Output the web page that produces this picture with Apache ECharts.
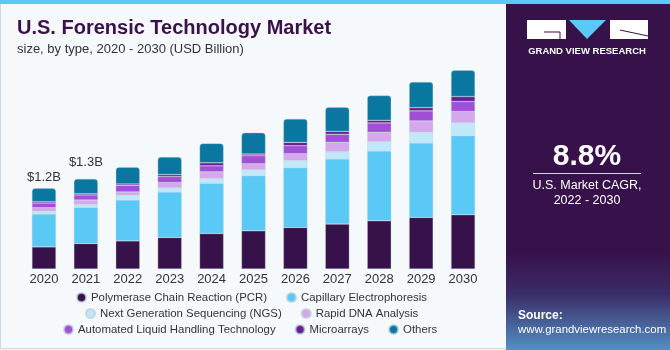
<!DOCTYPE html>
<html>
<head>
<meta charset="utf-8">
<script src="https://cdn.jsdelivr.net/npm/echarts@6/dist/echarts.min.js"></script>
<style>
  html, body { margin: 0; padding: 0; background: #f5f9fc; }
  #main { width: 670px; height: 350px; }
</style>
</head>
<body>
<div id="main"></div>
<script>
'use strict'
// data (USD Billion)
var years = ['2020', '2021', '2022', '2023', '2024', '2025', '2026', '2027', '2028', '2029', '2030'];
var pcr = [0.33, 0.38, 0.42, 0.47, 0.53, 0.57, 0.62, 0.67, 0.72, 0.77, 0.81];
var capillary = [0.49, 0.54, 0.61, 0.68, 0.75, 0.82, 0.89, 0.97, 1.04, 1.11, 1.18];
var ngs = [0.04, 0.04, 0.07, 0.06, 0.07, 0.09, 0.11, 0.11, 0.14, 0.16, 0.19];
var rapidDna = [0.055, 0.07, 0.05, 0.08, 0.10, 0.09, 0.10, 0.14, 0.14, 0.17, 0.17];
var liquidHandling = [0.07, 0.075, 0.10, 0.09, 0.09, 0.12, 0.12, 0.12, 0.14, 0.15, 0.15];
var microarrays = [0.02, 0.02, 0.02, 0.03, 0.045, 0.025, 0.05, 0.045, 0.04, 0.05, 0.075];
var others = [0.2, 0.22, 0.25, 0.26, 0.29, 0.32, 0.35, 0.36, 0.37, 0.38, 0.39];
var totalLabels = ['$1.2B', '$1.3B', '', '', '', '', '', '', '', '', ''];

var names = [
    'Polymerase Chain Reaction (PCR)',
    'Capillary Electrophoresis',
    'Next Generation Sequencing (NGS)',
    'Rapid DNA Analysis',
    'Automated Liquid Handling Technology',
    'Microarrays',
    'Others'
];
var values = [pcr, capillary, ngs, rapidDna, liquidHandling, microarrays, others];
var colors = ['#37114a', '#5bc9f6', '#bfe9fa', '#d5a8ed', '#a24fd8', '#6a1f91', '#0a77a0'];

var chart = echarts.init(document.getElementById('main'));

var series = values.map(function (vals, i) {
    var last = i === values.length - 1;
    return {
        name: names[i],
        type: 'bar',
        stack: 'total',
        barWidth: 24,
        itemStyle: {
            color: colors[i],
            borderColor: 'rgba(190,205,215,0.7)',
            borderWidth: 0.5,
            borderRadius: last ? [3, 3, 0, 0] : 0
        },
        data: vals.map(function (v, j) {
            if (!last || !totalLabels[j]) return v;
            return {
                value: v,
                label: {
                    show: true,
                    position: 'top',
                    distance: j === 0 ? 4 : 10,
                    formatter: totalLabels[j],
                    color: '#333',
                    fontSize: 13,
                    fontFamily: 'Liberation Sans'
                }
            };
        })
    };
});

function legendRow(top, left, items) {
    return {
        top: top,
        left: left,
        padding: 0,
        orient: 'horizontal',
        icon: 'circle',
        itemWidth: 9,
        itemHeight: 9,
        itemGap: 19,
        data: items,
        textStyle: { color: '#333', fontSize: 11.4, fontFamily: 'Liberation Sans' }
    };
}

var option = {
    backgroundColor: '#f5f9fc',
    animation: false,
    grid: { left: 23, right: 186, top: 68, bottom: 81 },
    xAxis: {
        type: 'category',
        data: years,
        axisLine: { show: false },
        axisTick: { show: false },
        axisLabel: { color: '#333', fontSize: 13, fontFamily: 'Liberation Sans', margin: 4 }
    },
    yAxis: {
        type: 'value',
        min: 0,
        max: 3,
        show: false
    },
    legend: [
        legendRow(292, 76, names.slice(0, 2)),
        legendRow(308, 85, names.slice(2, 4)),
        legendRow(324, 63, names.slice(4))
    ],
    graphic: [
        // top accent line
        { type: 'rect', shape: { x: 0, y: 0, width: 670, height: 4 }, style: { fill: '#5bc9f6' }, z: 10 },
        // frame
        { type: 'rect', shape: { x: 0.5, y: 0.5, width: 669, height: 348 }, style: { fill: 'none', stroke: '#cfd6dc', lineWidth: 1 }, z: 0 },
        // right panel
        {
            type: 'rect',
            shape: { x: 506, y: 4, width: 164, height: 346 },
            style: {
                fill: new echarts.graphic.LinearGradient(0, 0, 0, 1, [
                    { offset: 0, color: '#37114a' },
                    { offset: 0.72, color: '#37114a' },
                    { offset: 0.84, color: '#3b2d68' },
                    { offset: 1, color: '#5390c4' }
                ])
            },
            z: 5
        },
        // logo
        { type: 'rect', shape: { x: 527, y: 20, width: 39, height: 19 }, style: { fill: '#fff' }, z: 6 },
        { type: 'polyline', shape: { points: [[544, 32], [560, 32], [560, 39]] }, style: { stroke: '#37114a', lineWidth: 1, fill: 'none' }, z: 7 },
        { type: 'polygon', shape: { points: [[569, 20], [606, 20], [587, 39]] }, style: { fill: '#5bc9f6' }, z: 6 },
        { type: 'rect', shape: { x: 610, y: 20, width: 38, height: 19 }, style: { fill: '#fff' }, z: 6 },
        { type: 'line', shape: { x1: 620, y1: 30, x2: 648, y2: 36 }, style: { stroke: '#37114a', lineWidth: 1 }, z: 7 },
        {
            type: 'text', x: 587, y: 51, z: 7,
            style: { text: 'GRAND VIEW RESEARCH', fill: '#fff', font: 'bold 9.5px "Liberation Sans"', align: 'center', verticalAlign: 'middle' }
        },
        {
            type: 'text', x: 587, y: 157, z: 7,
            style: { text: '8.8%', fill: '#fff', font: 'bold 30px "Liberation Sans"', align: 'center', verticalAlign: 'middle' }
        },
        { type: 'line', shape: { x1: 533, y1: 173.5, x2: 641, y2: 173.5 }, style: { stroke: '#d8d0e0', lineWidth: 1 }, z: 7 },
        {
            type: 'text', x: 587, y: 186, z: 7,
            style: { text: 'U.S. Market CAGR,', fill: '#fff', font: '12.5px "Liberation Sans"', align: 'center', verticalAlign: 'middle' }
        },
        {
            type: 'text', x: 587, y: 201, z: 7,
            style: { text: '2022 - 2030', fill: '#fff', font: '12.5px "Liberation Sans"', align: 'center', verticalAlign: 'middle' }
        },
        {
            type: 'text', x: 518, y: 316, z: 7,
            style: { text: 'Source:', fill: '#fff', font: 'bold 12px "Liberation Sans"', align: 'left', verticalAlign: 'middle' }
        },
        {
            type: 'text', x: 518, y: 330, z: 7,
            style: { text: 'www.grandviewresearch.com', fill: '#fff', font: '11.4px "Liberation Sans"', align: 'left', verticalAlign: 'middle' }
        },
        // titles
        {
            type: 'text', x: 17, y: 28, z: 7,
            style: { text: 'U.S. Forensic Technology Market', fill: '#3a1149', font: 'bold 20px "Liberation Sans"', align: 'left', verticalAlign: 'middle' }
        },
        {
            type: 'text', x: 17, y: 49, z: 7,
            style: { text: 'size, by type, 2020 - 2030 (USD Billion)', fill: '#333', font: '13px "Liberation Sans"', align: 'left', verticalAlign: 'middle' }
        }
    ],
    series: series
};

chart.setOption(option);
</script>
</body>
</html>
